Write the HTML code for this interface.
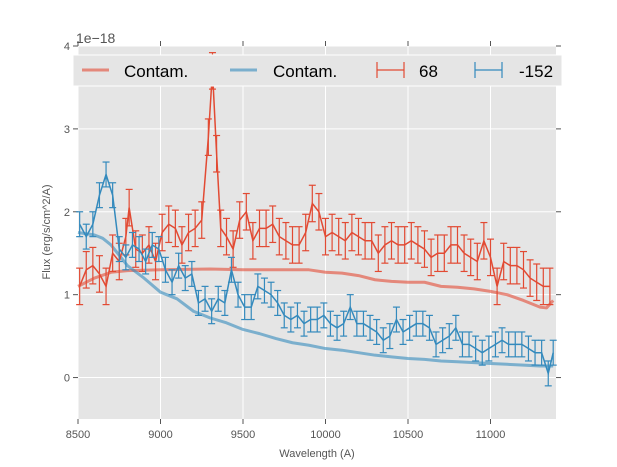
<!DOCTYPE html>
<html><head><meta charset="utf-8"><style>
html,body{margin:0;padding:0;background:#fff;}
svg{display:block;font-family:"Liberation Sans","DejaVu Sans",sans-serif;}
</style></head><body>
<svg id="chart" width="617" height="467" viewBox="0 0 617 467"></svg>
<script>
const xTicks=[8500,9000,9500,10000,10500,11000];
const yTicks=[0,1,2,3,4];
const redWave=[8510,8550,8590,8630,8670,8710,8750,8790,8810,8850,8890,8930,8970,9010,9050,9090,9130,9170,9210,9250,9290,9315,9340,9365,9400,9440,9480,9520,9560,9600,9640,9680,9720,9760,9800,9840,9880,9920,9960,10000,10040,10080,10120,10160,10200,10240,10280,10320,10360,10400,10440,10480,10520,10560,10600,10640,10680,10720,10760,10800,10840,10880,10920,10960,11000,11040,11080,11120,11160,11200,11240,11280,11320,11360];
const redFlux=[1.1,1.3,1.35,1.25,1.1,1.5,1.4,1.7,2.05,1.55,1.5,1.6,1.4,1.75,1.85,1.8,1.6,1.75,1.8,1.9,2.9,3.7,2.7,1.8,1.7,1.55,1.9,2.0,1.65,1.8,1.8,1.85,1.7,1.65,1.6,1.6,1.75,2.1,2.0,1.7,1.75,1.7,1.65,1.75,1.7,1.65,1.65,1.5,1.6,1.65,1.6,1.6,1.65,1.6,1.55,1.45,1.5,1.5,1.6,1.6,1.5,1.45,1.4,1.65,1.45,1.1,1.4,1.35,1.35,1.3,1.2,1.15,1.1,1.1];
const redErr=0.22;
const blueWave=[8510,8550,8590,8630,8670,8710,8750,8790,8830,8870,8910,8950,8990,9030,9070,9110,9150,9190,9230,9270,9310,9350,9390,9430,9470,9510,9550,9590,9630,9670,9710,9750,9790,9830,9870,9910,9950,9990,10030,10070,10110,10150,10190,10230,10270,10310,10350,10390,10430,10470,10510,10550,10590,10630,10670,10710,10750,10790,10830,10870,10910,10950,10990,11030,11070,11110,11150,11190,11230,11270,11310,11350,11380];
const blueFlux=[1.85,1.7,1.85,2.2,2.45,2.2,1.55,1.45,1.6,1.55,1.4,1.6,1.55,1.3,1.15,1.35,1.2,1.25,0.9,0.95,0.8,0.95,0.9,1.3,1.0,0.85,0.85,1.1,1.05,1.0,0.9,0.75,0.7,0.75,0.65,0.7,0.7,0.75,0.65,0.6,0.65,0.85,0.65,0.65,0.6,0.55,0.45,0.5,0.7,0.55,0.6,0.65,0.65,0.6,0.4,0.45,0.5,0.6,0.4,0.4,0.35,0.3,0.35,0.4,0.45,0.4,0.4,0.4,0.35,0.3,0.3,0.05,0.3];
const blueErr=0.15;
const redContamWave=[8500,8600,8700,8800,9000,9300,9500,9700,9900,10000,10100,10200,10300,10400,10500,10600,10700,10800,10900,11000,11100,11200,11300,11340,11380];
const redContamFlux=[1.1,1.2,1.27,1.29,1.3,1.31,1.3,1.3,1.3,1.27,1.26,1.23,1.18,1.16,1.15,1.15,1.1,1.09,1.07,1.04,1.0,0.93,0.85,0.84,0.93];
const blueContamWave=[8500,8600,8650,8700,8800,8900,9000,9100,9200,9300,9400,9500,9600,9700,9800,9900,10000,10100,10200,10300,10400,10500,10600,10700,10800,10900,11000,11100,11200,11300,11380];
const blueContamFlux=[1.75,1.72,1.68,1.6,1.35,1.2,1.03,0.95,0.8,0.72,0.66,0.58,0.53,0.47,0.42,0.39,0.35,0.33,0.3,0.27,0.25,0.23,0.22,0.2,0.19,0.18,0.17,0.16,0.15,0.14,0.14];

const L=78,R=556,T=46,B=419,X0=8500,X1=11397,Y0=-0.5,Y1=4.0;
const sx=w=>L+(w-X0)/(X1-X0)*(R-L);
const sy=f=>B-(f-Y0)/(Y1-Y0)*(B-T);
const NS='http://www.w3.org/2000/svg';
const svg=document.getElementById('chart');
function mk(tag,attrs,parent){const e=document.createElementNS(NS,tag);for(const k in attrs)e.setAttribute(k,attrs[k]);(parent||svg).appendChild(e);return e;}

const bg=mk('rect',{x:L,y:T,width:R-L,height:B-T,fill:'#e5e5e5'});


const grid=mk('g',{stroke:'#fff','stroke-width':1});


xTicks.forEach(t=>{mk('line',{x1:sx(t),x2:sx(t),y1:T,y2:B},grid);});
yTicks.forEach(t=>{mk('line',{x1:L,x2:R,y1:sy(t),y2:sy(t)},grid);});

const ticks=mk('g',{stroke:'#555','stroke-width':1});


xTicks.forEach(t=>{mk('line',{x1:sx(t),x2:sx(t),y1:B,y2:B+5},ticks);mk('line',{x1:sx(t),x2:sx(t),y1:T,y2:T-5},ticks);});
yTicks.forEach(t=>{mk('line',{x1:L-5,x2:L,y1:sy(t),y2:sy(t)},ticks);mk('line',{x1:R,x2:R+5,y1:sy(t),y2:sy(t)},ticks);});

xTicks.forEach(t=>{const e=mk('text',{x:sx(t),y:B+19,'font-size':11,fill:'#555','text-anchor':'middle'});e.textContent=t;

});
yTicks.forEach(t=>{const e=mk('text',{x:L-8,y:sy(t)+4,'font-size':11,fill:'#555','text-anchor':'end'});e.textContent=t;

});

function line(ws,fs,color,width,op,name){
  const p=mk('polyline',{points:ws.map((w,i)=>sx(w)+','+sy(fs[i])).join(' '),fill:'none',stroke:color,'stroke-width':width,'stroke-opacity':op,'stroke-linejoin':'round'});
  
  
}
line(redContamWave,redContamFlux,'#E24A33',3,0.6,'red-contam-line');
line(blueContamWave,blueContamFlux,'#348ABD',3,0.6,'blue-contam-line');

function errs(ws,fs,err,color,name){
  const g=mk('g',{stroke:color,'stroke-width':1.2,fill:'none'});
  
  
  ws.forEach((w,i)=>{const x=sx(w),a=sy(fs[i]+err),b=sy(fs[i]-err);
    mk('line',{x1:x,x2:x,y1:a,y2:b},g);mk('line',{x1:x-3.5,x2:x+3.5,y1:a,y2:a},g);mk('line',{x1:x-3.5,x2:x+3.5,y1:b,y2:b},g);});
  mk('polyline',{points:ws.map((w,i)=>sx(w)+','+sy(fs[i])).join(' '),'stroke-width':1.5},g);
}
errs(redWave,redFlux,redErr,'#E24A33','series-68');
errs(blueWave,blueFlux,blueErr,'#348ABD','series-minus-152');

// legend
const lg=mk('g',{});


mk('rect',{x:73,y:55,width:489,height:31,fill:'#e5e5e5',stroke:'#fff','stroke-width':1},lg);
function ltxt(x,s){const e=mk('text',{x:x,y:77,'font-size':17,fill:'#000'},lg);e.textContent=s;

}
mk('line',{x1:82,x2:109,y1:70,y2:70,stroke:'#E24A33','stroke-width':3,'stroke-opacity':0.6},lg);ltxt(124,'Contam.');
mk('line',{x1:230,x2:257,y1:70,y2:70,stroke:'#348ABD','stroke-width':3,'stroke-opacity':0.6},lg);ltxt(273,'Contam.');
function lerr(x,c){const g=mk('g',{stroke:c,'stroke-width':1.2},lg);mk('line',{x1:x,x2:x+27,y1:70,y2:70},g);mk('line',{x1:x,x2:x,y1:62,y2:78},g);mk('line',{x1:x+27,x2:x+27,y1:62,y2:78},g);}
lerr(377,'#E24A33');ltxt(419,'68');
lerr(475,'#348ABD');ltxt(519,'-152');

const m=mk('text',{x:76,y:43,'font-size':14,fill:'#555'});m.textContent='1e\u221218';


const xl=mk('text',{x:317,y:457,'font-size':11,fill:'#555','text-anchor':'middle'});xl.textContent='Wavelength (A)';


const yl=mk('text',{x:0,y:0,'font-size':11,fill:'#555','text-anchor':'middle',transform:'translate(50,232) rotate(-90)'});yl.textContent='Flux (erg/s/cm^2/A)';


</script>
</body></html>
